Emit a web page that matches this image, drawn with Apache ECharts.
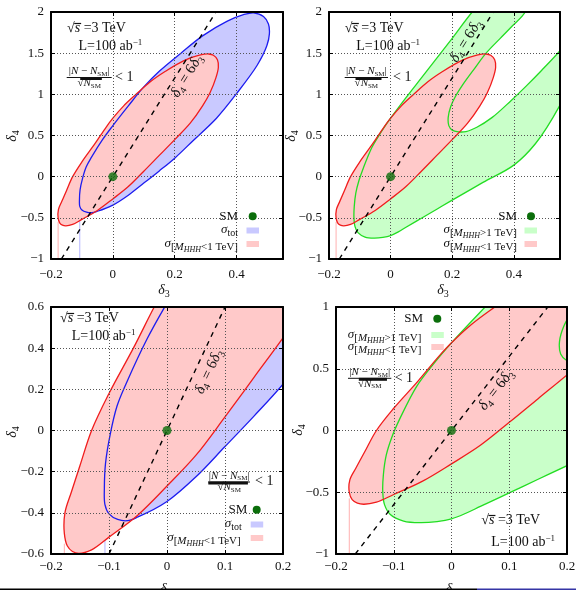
<!DOCTYPE html>
<html>
<head>
<meta charset="utf-8">
<script src="https://cdn.jsdelivr.net/npm/echarts@6/dist/echarts.min.js"></script>
<style>
html,body{margin:0;padding:0;background:#fff;}
#chart{width:576px;height:590px;}
</style>
</head>
<body>
<div id="chart"></div>
<script>
// Contour |N - N_SM| / sqrt(N_SM) = 1 for the total cross section (delta3, delta4)
const sigmaTot = [[0.455,1.99],[0.42,1.965],[0.37,1.89],[0.29,1.71],[0.22,1.50],[0.15,1.28],[0.10,1.09],[0.05,0.86],[0.00,0.62],[-0.034,0.447],[-0.069,0.237],[-0.086,0.12],[-0.098,-0.02],[-0.106,-0.16],[-0.108,-0.28],[-0.107,-0.36],[-0.100,-0.405],[-0.085,-0.432],[-0.068,-0.438],[-0.050,-0.42],[0.00,-0.345],[0.05,-0.225],[0.10,-0.078],[0.15,0.07],[0.20,0.225],[0.26,0.44],[0.335,0.71],[0.398,1.00],[0.466,1.35],[0.498,1.593],[0.506,1.734],[0.503,1.855],[0.487,1.945]];
// Same contour using only events with M_HHH < 1 TeV
const sigmaLow = [[0.31,1.49],[0.28,1.475],[0.23,1.41],[0.17,1.28],[0.12,1.15],[0.075,1.0],[0.035,0.86],[0.0,0.71],[-0.022,0.60],[-0.058,0.40],[-0.10,0.18],[-0.13,0.0],[-0.15,-0.17],[-0.165,-0.30],[-0.176,-0.40],[-0.177,-0.50],[-0.172,-0.56],[-0.163,-0.588],[-0.152,-0.597],[-0.13,-0.58],[-0.10,-0.518],[-0.05,-0.41],[0.0,-0.27],[0.05,-0.12],[0.10,0.066],[0.15,0.258],[0.20,0.45],[0.25,0.65],[0.29,0.86],[0.314,1.02],[0.333,1.2],[0.341,1.33],[0.338,1.42],[0.325,1.475]];
// Events with M_HHH > 1 TeV: outer and inner edge of the allowed band
const sigmaHighOuter = [[0.34,2.3],[0.265,2.0],[0.2,1.68],[0.15,1.44],[0.1,1.2],[0.05,0.96],[0.0,0.71],[-0.031,0.54],[-0.06,0.36],[-0.089,0.10],[-0.103,-0.05],[-0.113,-0.2],[-0.118,-0.36],[-0.119,-0.5],[-0.116,-0.6],[-0.106,-0.68],[-0.083,-0.733],[-0.054,-0.746],[-0.025,-0.737],[0.0,-0.715],[0.025,-0.67],[0.05,-0.615],[0.1,-0.505],[0.15,-0.395],[0.2,-0.285],[0.3,-0.07],[0.4,0.14],[0.47,0.4],[0.55,0.87],[0.61,1.35],[0.66,1.9],[0.6,2.3],[0.45,2.45]];
const sigmaHighInner = [[0.46,2.3],[0.437,2.0],[0.395,1.83],[0.356,1.68],[0.31,1.5],[0.27,1.3],[0.235,1.12],[0.21,0.97],[0.195,0.85],[0.187,0.72],[0.189,0.62],[0.2,0.565],[0.22,0.545],[0.245,0.548],[0.28,0.6],[0.33,0.72],[0.39,0.92],[0.44,1.1],[0.49,1.29],[0.55,1.53],[0.62,1.85],[0.62,2.3]];
// vertical fill edges below the lower-left ends of the contours
const sigmaTotFoot = [[-0.107,-1],[-0.107,-0.44]];
const sigmaLowFoot = [[-0.177,-1],[-0.177,-0.55]];
// Standard Model point
const smPoint = [[0, 0]];
// reference line delta4 = 6 delta3
const lineSlope = 6;
// axis ranges [min, max, step] of the four panels
const xRanges = [[-0.2,0.55,0.2],[-0.2,0.55,0.2],[-0.2,0.2,0.1],[-0.2,0.2,0.1]];
const yRanges = [[-1,2,0.5],[-1,2,0.5],[-0.6,0.6,0.2],[-1,1,0.5]];

const FONT = '"Liberation Serif","DejaVu Serif",serif';
const C = {
  blue: '#1c1cf0', blueFill: '#c9c9ff', blueFoot: '#b4b4ff',
  red: '#f01c1c', redFill: '#ffc9c9', redFoot: '#ffb0b0',
  green: '#22dd22', greenFill: '#c9ffc9', sm: '#0b6e0b', ink: '#111'
};

const grids = [
  { left: 51, top: 12, width: 232, height: 247 },
  { left: 329, top: 12, width: 231, height: 247 },
  { left: 51, top: 307, width: 232, height: 247 },
  { left: 336, top: 307, width: 231, height: 247 }
];
const xLabelMargin = [9, 9, 6, 6];

const fmt = v => String(Math.round(v * 100) / 100).replace('-', '\u2212');

const xAxes = [], yAxes = [];
grids.forEach((g, i) => {
  const [x0, x1, xs] = xRanges[i], [y0, y1, ys] = yRanges[i];
  const base = {
    type: 'value', gridIndex: i, z: 6,
    axisLine: { show: true, onZero: false, lineStyle: { color: '#000', width: 2 } },
    axisTick: { show: true, inside: true, length: 4, lineStyle: { color: '#000', width: 1 } },
    splitLine: { show: true, lineStyle: { color: '#555', width: 1, type: [1, 2] } },
    minorTick: { show: false }
  };
  xAxes.push(Object.assign({}, base, {
    min: x0, max: x1, interval: xs, position: 'bottom',
    axisLabel: { show: true, formatter: fmt, fontFamily: FONT, fontSize: 13, color: C.ink, margin: xLabelMargin[i], showMaxLabel: x1 === 0.2, showMinLabel: true }
  }));
  yAxes.push(Object.assign({}, base, {
    min: y0, max: y1, interval: ys, position: 'left',
    axisLabel: { show: true, formatter: fmt, fontFamily: FONT, fontSize: 13, color: C.ink, margin: 7, showMaxLabel: true, showMinLabel: true }
  }));
});
grids.forEach((g, i) => {
  const [x0, x1, xs] = xRanges[i], [y0, y1, ys] = yRanges[i];
  const mirror = {
    type: 'value', gridIndex: i, z: 6,
    axisLine: { show: true, onZero: false, lineStyle: { color: '#000', width: 2 } },
    axisTick: { show: true, inside: true, length: 4, lineStyle: { color: '#000', width: 1 } },
    axisLabel: { show: false }, splitLine: { show: false }
  };
  xAxes.push(Object.assign({}, mirror, { min: x0, max: x1, interval: xs, position: 'top' }));
  yAxes.push(Object.assign({}, mirror, { min: y0, max: y1, interval: ys, position: 'right' }));
});

// closed centripetal Catmull-Rom curve through pixel points, as SVG path data
function closedCurvePath(P) {
  const n = P.length;
  const dist = (a, b) => Math.max(1e-6, Math.sqrt(Math.hypot(b[0] - a[0], b[1] - a[1])));
  let d = 'M' + P[0][0].toFixed(2) + ' ' + P[0][1].toFixed(2);
  for (let k = 0; k < n; k++) {
    const p0 = P[(k - 1 + n) % n], p1 = P[k], p2 = P[(k + 1) % n], p3 = P[(k + 2) % n];
    const d1 = dist(p0, p1), d2 = dist(p1, p2), d3 = dist(p2, p3);
    const c1 = [0, 1].map(j => (d1 * d1 * p2[j] - d2 * d2 * p0[j] + (2 * d1 * d1 + 3 * d1 * d2 + d2 * d2) * p1[j]) / (3 * d1 * (d1 + d2)));
    const c2 = [0, 1].map(j => (d3 * d3 * p1[j] - d2 * d2 * p3[j] + (2 * d3 * d3 + 3 * d3 * d2 + d2 * d2) * p2[j]) / (3 * d3 * (d3 + d2)));
    d += 'C' + c1[0].toFixed(2) + ' ' + c1[1].toFixed(2) + ' ' + c2[0].toFixed(2) + ' ' + c2[1].toFixed(2) + ' ' + p2[0].toFixed(2) + ' ' + p2[1].toFixed(2);
  }
  return d + 'Z';
}

function shape(pts, i, z, style, closed) {
  return {
    type: 'custom', coordinateSystem: 'cartesian2d', xAxisIndex: i, yAxisIndex: i,
    data: pts, encode: { x: 0, y: 1 }, clip: true, z: z, silent: true, animation: false,
    renderItem: function (params, api) {
      if (params.dataIndex !== 0) return null;
      const points = pts.map(p => api.coord(p));
      if (!closed) return { type: 'polyline', shape: { points: points }, style: style };
      return { type: 'path', shape: { pathData: closedCurvePath(points) }, style: style };
    }
  };
}
const fillStyle = c => ({ fill: c, stroke: null, lineWidth: 0 });
const lineStyle = (c, w) => ({ fill: 'none', stroke: c, lineWidth: w || 1.3 });

const series = [];
grids.forEach((g, i) => {
  if (i % 2 === 0) {
    series.push(shape(sigmaTot, i, 1, fillStyle(C.blueFill), true));
    series.push(shape(sigmaTotFoot, i, 1, lineStyle(C.blueFoot, 1), false));
    series.push(shape(sigmaLowFoot, i, 1, lineStyle(C.redFoot, 1), false));
    series.push(shape(sigmaLow, i, 2, fillStyle(C.redFill), true));
    series.push(shape(sigmaTot, i, 4, lineStyle(C.blue), true));
    series.push(shape(sigmaLow, i, 4, lineStyle(C.red), true));
  } else {
    series.push(shape(sigmaHighOuter, i, 1, fillStyle(C.greenFill), true));
    series.push(shape(sigmaHighInner, i, 2, fillStyle('#ffffff'), true));
    series.push(shape(sigmaLowFoot, i, 2, lineStyle(C.redFoot, 1), false));
    series.push(shape(sigmaLow, i, 3, fillStyle(C.redFill), true));
    series.push(shape(sigmaHighOuter, i, 4, lineStyle(C.green), true));
    series.push(shape(sigmaHighInner, i, 4, lineStyle(C.green), true));
    series.push(shape(sigmaLow, i, 4, lineStyle(C.red), true));
  }
  const [y0, y1] = yRanges[i];
  series.push({
    type: 'line', xAxisIndex: i, yAxisIndex: i, z: 7, silent: true, animation: false,
    symbol: 'none', clip: true,
    data: [[y0 / lineSlope, y0], [y1 / lineSlope, y1]],
    lineStyle: { color: '#000', width: 1.4, type: [5, 5] }
  });
  series.push({
    type: 'scatter', xAxisIndex: i, yAxisIndex: i, z: 8, silent: true, animation: false,
    data: smPoint, symbol: 'circle', symbolSize: 9, itemStyle: { color: C.sm }
  });
});

// ---- text helpers ----
const mctx = document.createElement('canvas').getContext('2d');
function fontOf(size, italic) { return (italic ? 'italic ' : '') + size + 'px ' + FONT; }
function tw(t, size, italic) { mctx.font = fontOf(size, italic); return mctx.measureText(t).width; }
// segs: [text, size, italic, dy]; base = baseline y
function runs(segs, x, base, align) {
  const widths = segs.map(s => tw(s[0], s[1], s[2]));
  const total = widths.reduce((a, b) => a + b, 0);
  let cx = align === 'right' ? x - total : align === 'center' ? x - total / 2 : x;
  const start = cx, els = [], xs = [];
  segs.forEach((s, k) => {
    xs.push(cx);
    els.push({
      type: 'text', x: cx, y: base + (s[3] || 0) - 0.34 * s[1], silent: true, z: 100,
      style: { text: s[0], font: fontOf(s[1], s[2]), fill: C.ink,
               textAlign: 'left', align: 'left', textVerticalAlign: 'middle', verticalAlign: 'middle' }
    });
    cx += widths[k];
  });
  return { els, start, total, xs, widths };
}
const G = [];
function put(segs, x, base, align) { const r = runs(segs, x, base, align); G.push(...r.els); return r; }
function hline(x0, x1, y, w) {
  G.push({ type: 'line', silent: true, z: 100, shape: { x1: x0, y1: y, x2: x1, y2: y }, style: { stroke: C.ink, lineWidth: w || 1 } });
}
function rect(x, y, w, h, c) { G.push({ type: 'rect', silent: true, z: 100, shape: { x, y, width: w, height: h }, style: { fill: c } }); }
function dot(cx, cy) { G.push({ type: 'circle', silent: true, z: 100, shape: { cx, cy, r: 4 }, style: { fill: C.sm } }); }
function rotated(segs, cx, cy, angleDeg, size) {
  const r = runs(segs, 0, 0.34 * size, 'center');
  G.push({ type: 'group', x: cx, y: cy, rotation: angleDeg * Math.PI / 180, silent: true, z: 100, children: r.els });
}

function energyLabel(x, base) {
  const r = put([['\u221A', 14, false], ['s', 14, true], [' =3 TeV', 14, false]], x, base, 'left');
  hline(r.xs[1] - 0.5, r.xs[1] + r.widths[1] + 1, base - 9.5, 1.2);
}
function lumiLabel(x, base) {
  put([['L=100 ab', 14, false], ['\u22121', 9, false, -6]], x, base, 'left');
}
function fraction(x0, x1, numBase, barY, denBase, thickFrom, thickTo, ltX, ltBase) {
  const cx = (x0 + x1) / 2;
  put([['|', 11, false], ['N', 11, true], [' \u2212 ', 11, false], ['N', 11, true], ['SM', 7, false, 1.5], ['|', 11, false]], cx, numBase, 'center');
  hline(x0, x1, barY, 1);
  rect(x0 + (x1 - x0) * thickFrom, barY - 0.5, (x1 - x0) * (thickTo - thickFrom), 3, C.ink);
  const d = put([['\u221A', 11, false], ['N', 11, true], ['SM', 7, false, 1.5]], cx, denBase, 'center');
  hline(d.xs[1] - 0.5, d.start + d.total + 0.5, denBase - 8, 1);
  put([['< 1', 14, false]], ltX, ltBase, 'left');
}
const sigTot = [['\u03C3', 13, true], ['tot', 10, false, 3]];
const sigBand = cmp => [['\u03C3', 13, true], ['[', 11, false, 3], ['M', 11, true, 3], ['HHH', 8, true, 5], [cmp + '1 TeV]', 11, false, 3]];
function legend(xText, xSw, ySM, yA, yB, entryA, colA, entryB, colB, xDot) {
  put([['SM', 13, false]], xText[0], ySM, 'right');
  dot(xDot, ySM - 4.3);
  put(entryA, xText[1], yA, 'right');
  rect(xSw, yA - 6.5, 12.5, 6, colA);
  put(entryB, xText[2], yB, 'right');
  rect(xSw, yB - 6.5, 12.5, 6, colB);
}
const deltaLine = [['\u03B4', 15, true], ['4', 10, false, 3], [' = 6', 15, false], ['\u03B4', 15, true], ['3', 10, false, 3]];
const d3 = [['\u03B4', 14, true], ['3', 10, false, 3]];
const d4 = [['\u03B4', 14, true], ['4', 10, false, 3]];

// panel 1
energyLabel(67, 33); lumiLabel(78.5, 51.5);
fraction(66.7, 111.7, 75, 77.5, 87, 0.3, 0.78, 115, 82);
legend([238, 238, 238], 246.5, 220.5, 234, 247.5, sigTot, C.blueFill, sigBand('<'), C.redFill, 252.7);
rotated(deltaLine, 187, 76, 58.2, 15);
put(d3, 164, 295, 'center'); rotated(d4, 12, 136, 90, 14);
// panel 2
energyLabel(344.7, 33); lumiLabel(356.3, 51.5);
fraction(344.7, 388, 75, 77.5, 87, 0.25, 0.85, 393, 82);
legend([517, 517, 517], 524.5, 220.5, 234, 247.5, sigBand('>'), C.greenFill, sigBand('<'), C.redFill, 531);
rotated(deltaLine, 466, 41, 58.2, 15);
put(d3, 443, 295, 'center'); rotated(d4, 291, 136, 90, 14);
// panel 3
energyLabel(60, 323); lumiLabel(71.7, 341.5);
fraction(208.3, 250, 479.5, 482, 491, 0.0, 0.95, 255, 486);
legend([247.3, 241.7, 240.7], 250.7, 514, 528, 541.5, sigTot, C.blueFill, sigBand('<'), C.redFill, 256.7);
rotated(deltaLine, 209, 371.7, 64.9, 15);
put(d3, 166, 594, 'center'); rotated(d4, 12, 432, 90, 14);
// panel 4
energyLabel(481.3, 525); lumiLabel(491.3, 547.5);
fraction(348, 391.3, 376, 378.3, 387.5, 0.25, 0.9, 394.7, 383);
legend([423, 421.3, 421.3], 431.3, 323, 338.5, 350.5, sigBand('>'), C.greenFill, sigBand('<'), C.redFill, 437.3);
rotated(deltaLine, 496.3, 390, 52.1, 15);
put(d3, 451.5, 594, 'center'); rotated(d4, 298, 430, 90, 14);
// rule along the bottom edge
rect(0, 588.5, 477, 2, '#000');
rect(477, 588.5, 99, 2, '#3535a5');

const chart = echarts.init(document.getElementById('chart'), null, { renderer: 'canvas' });
chart.setOption({
  backgroundColor: '#ffffff',
  animation: false,
  grid: grids.map(g => Object.assign({ containLabel: false, outerBoundsMode: 'none' }, g)),
  xAxis: xAxes,
  yAxis: yAxes,
  series: series,
  graphic: { elements: G }
});
</script>
</body>
</html>
